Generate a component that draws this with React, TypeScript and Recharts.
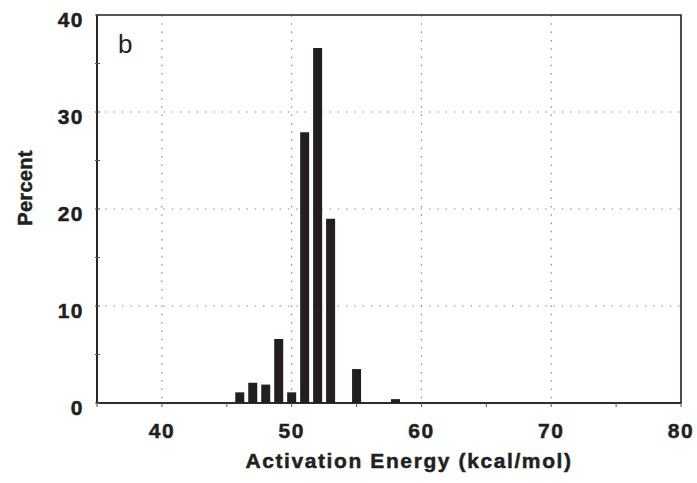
import React from 'react';
import {
  BarChart,
  Bar,
  XAxis,
  YAxis,
  CartesianGrid,
  ReferenceArea,
  Label,
} from 'recharts';

// histogram bins (kcal/mol) and their share of the population (%)
const energies = [46, 47, 48, 49, 50, 51, 52, 53, 55, 58];
const percents = [1.1, 2.1, 1.9, 6.6, 1.1, 27.9, 36.6, 19.0, 3.5, 0.4];

const xTicks = [35, 40, 45, 50, 55, 60, 65, 70, 75, 80];
const yTicks = [0, 5, 10, 15, 20, 25, 30, 35, 40];
const xGrid = [40, 50, 60, 70];
const yGrid = [10, 20, 30];

const data = energies.map((energy, i) => ({ energy, percent: percents[i] }));

const INK = '#231f20';
const FONT = '"Liberation Sans", Arial, Helvetica, sans-serif';

// bold labels get a thin outline so they read as heavy as the printed figure
const boldText = {
  fontFamily: FONT,
  fontWeight: 'bold' as const,
  fill: INK,
  stroke: INK,
  strokeWidth: 0.5,
};

const XTick = (props: any) => {
  const { x, y, payload } = props;
  const major = payload.value % 10 === 0 && payload.value !== 35;
  return (
    <g>
      <line x1={x} y1={y} x2={x} y2={y + 4} stroke="#555" strokeWidth={1} />
      {major && (
        <text x={x} y={y + 35} textAnchor="middle" fontSize={21} letterSpacing={1.5} {...boldText}>
          {payload.value}
        </text>
      )}
    </g>
  );
};

const YTick = (props: any) => {
  const { x, y, payload } = props;
  const major = payload.value % 10 === 0;
  return (
    <g>
      <line x1={x - 2} y1={y} x2={x + 3} y2={y} stroke="#555" strokeWidth={1} />
      {major && (
        <text x={x - 13} y={y + 12} textAnchor="end" fontSize={21} letterSpacing={1.5} {...boldText}>
          {payload.value}
        </text>
      )}
    </g>
  );
};

export default function App() {
  return (
    <div style={{ position: 'absolute', left: 0, top: 0, background: '#fff' }}>
      <BarChart
        width={697}
        height={483}
        data={data}
        margin={{ top: 15, right: 16, bottom: 30, left: 37 }}
      >
        <CartesianGrid
          stroke="#8a8a8a"
          strokeDasharray="1.5 6.8"
          strokeWidth={1.2}
          verticalValues={xGrid}
          horizontalValues={yGrid}
        />
        <XAxis
          dataKey="energy"
          type="number"
          domain={[35, 80]}
          ticks={xTicks}
          interval={0}
          height={50}
          tickSize={0}
          tickMargin={0}
          tickLine={false}
          tick={<XTick />}
          axisLine={{ stroke: INK, strokeWidth: 1.6 }}
        >
          <Label
            content={({ viewBox }: any) => (
              <text
                x={viewBox.x + viewBox.width / 2 + 20}
                y={468}
                textAnchor="middle"
                fontSize={21}
                letterSpacing={1.6}
                {...boldText}
              >
                Activation Energy (kcal/mol)
              </text>
            )}
          />
        </XAxis>
        <YAxis
          type="number"
          domain={[0, 40]}
          ticks={yTicks}
          interval={0}
          width={60}
          tickSize={0}
          tickMargin={0}
          tickLine={false}
          tick={<YTick />}
          axisLine={{ stroke: INK, strokeWidth: 1.6 }}
        >
          <Label
            content={({ viewBox }: any) => {
              const cy = viewBox.y + viewBox.height / 2 - 21;
              return (
                <text
                  x={32}
                  y={cy}
                  transform={`rotate(-90, 32, ${cy})`}
                  textAnchor="middle"
                  fontSize={20}
                  letterSpacing={0.3}
                  {...boldText}
                >
                  Percent
                </text>
              );
            }}
          />
        </YAxis>
        <Bar dataKey="percent" fill={INK} barSize={9} isAnimationActive={false} />
        <ReferenceArea
          x1={35}
          x2={80}
          y1={0}
          y2={40}
          fill="none"
          stroke={INK}
          strokeWidth={1.6}
          ifOverflow="visible"
        >
          <Label
            content={({ viewBox }: any) => (
              <text x={viewBox.x + 21} y={viewBox.y + 38} fontFamily={FONT} fontSize={26} fill={INK}>
                b
              </text>
            )}
          />
        </ReferenceArea>
      </BarChart>
    </div>
  );
}
